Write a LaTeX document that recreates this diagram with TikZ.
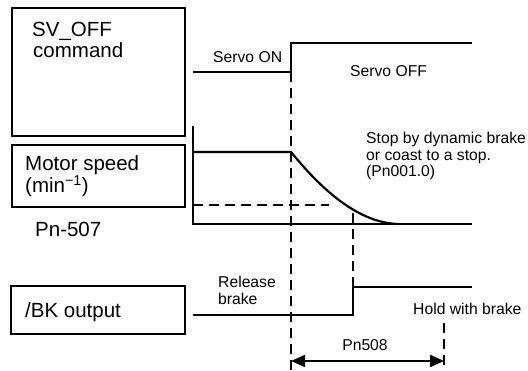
\documentclass[tikz,border=0pt]{standalone}
\usepackage{fontspec}
\setmainfont{Liberation Sans}
\usetikzlibrary{arrows.meta}

\tikzset{
    box/.style={line width=1.8pt},
    sigline/.style={line width=2.2pt},
    guide/.style={line width=1.8pt, dash pattern=on 10pt off 6pt},
    bigtxt/.style={font=\fontsize{20.5}{22}\selectfont, inner sep=0pt, anchor=base west},
    smalltxt/.style={font=\fontsize{15.7}{17}\selectfont, inner sep=0pt, anchor=base west},
    dimarrow/.style={line width=2pt, {Triangle[length=14pt,width=12pt]}-{Triangle[length=14pt,width=12pt]}}
}

\begin{document}
\begin{tikzpicture}[x=1pt, y=-1pt]
        \useasboundingbox (0,0) rectangle (528,371);
        % The three signal boxes on the left.
            \draw[box] (12,8) rectangle (185,136);
            \draw[box] (12,145) rectangle (185,207);
            \draw[box] (11,286) rectangle (185,334);
            \node[bigtxt] (svoffa) at (32,37) {SV\_OFF};
            \node[bigtxt] (svoffb) at (33,58) {command};
            \node[bigtxt] (speeda) at (25,171) {Motor speed};
            \node[bigtxt] (speedb) at (25,193) {(min\textsuperscript{−1})};
            \node[bigtxt] (pnzero) at (35,237) {Pn-507};
            \node[bigtxt] (bkout) at (25,318) {/BK output};
        % Points in time.
            \coordinate (toff) at (291,72);
            \coordinate (tbk) at (353,287);
            \coordinate (tend) at (444,323);
        % SV_OFF command.
            \draw[sigline] (193,72) -- (toff) -- (291,43) -- (472,43);
        % Motor speed.
            \draw[sigline] (193,126) -- (193,224) -- (472,224);
            \draw[sigline] (193,152) -- (291,152) .. controls (318,185) and (355,222) .. (397,224);
            \draw[guide] (193,205) -- (329,205);
        % /BK output.
            \draw[sigline] (193,315) -- (353,315) -- (tbk) -- (472,287);
        % Dashed guides down to the time span.
            \draw[guide] (toff) -- (291,371);
            \draw[guide] (353,213) -- (tbk);
            \draw[guide] (tend) -- (444,371);
            \coordinate (spana) at (291,361);
            \coordinate (spanb) at (444,361);
            \draw[dimarrow] (spana) -- (spanb);
        % Below nodes are the labels.
            \node[smalltxt] (svon) at (213,63) {Servo ON};
            \node[smalltxt] (svoff) at (350,77) {Servo OFF};
            \node[smalltxt] (stopa) at (366,144) {Stop by dynamic brake};
            \node[smalltxt] (stopb) at (366,161) {or coast to a stop.};
            \node[smalltxt] (stopc) at (366,177) {(Pn001.0)};
            \node[smalltxt] (rela) at (218,288) {Release};
            \node[smalltxt] (relb) at (218,305) {brake};
            \node[smalltxt] (hold) at (413,315) {Hold with brake};
            \node[smalltxt, anchor=base] (pnspan) at (365,351) {Pn508};
    \end{tikzpicture}
\end{document}
